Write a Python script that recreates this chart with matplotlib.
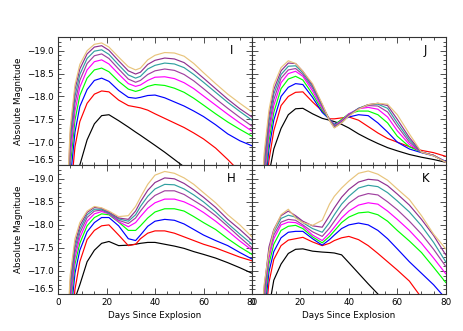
import matplotlib.pyplot as plt
import numpy as np
from matplotlib.ticker import MultipleLocator, FixedLocator

plt.rcParams['font.family'] = 'DejaVu Sans'
plt.rcParams['axes.unicode_minus'] = True

days = [3, 5, 7, 9, 12, 15, 18, 21, 25, 29, 32, 34, 37, 40, 44, 48, 52, 56, 60, 65, 70, 75, 80]

# line colours, faintest model first
colors = ['#000000', '#ff0000', '#0000ff', '#00ff00', '#ff00ff',
          '#a040a0', '#30a0a0', '#903090', '#e8c47c']

panel_i = [
    [-12.5, -14.6, -15.8, -16.5, -17.05, -17.4, -17.58, -17.6, -17.47, -17.33, -17.22, -17.15, -17.04, -16.93, -16.78, -16.62, -16.46, -16.3, -16.15, -15.95, -15.75, -15.55, -15.35],
    [-13.3, -15.75, -16.9, -17.45, -17.85, -18.05, -18.12, -18.1, -17.92, -17.8, -17.77, -17.75, -17.7, -17.62, -17.52, -17.42, -17.32, -17.2, -17.07, -16.87, -16.62, -16.35, -16.1],
    [-13.6, -16.15, -17.22, -17.78, -18.15, -18.35, -18.40, -18.33, -18.13, -17.98, -17.96, -17.98, -18.02, -18.03, -17.97, -17.88, -17.79, -17.68, -17.56, -17.38, -17.18, -17.03, -16.92],
    [-13.8, -16.45, -17.48, -18.02, -18.4, -18.58, -18.62, -18.54, -18.33, -18.16, -18.11, -18.14, -18.22, -18.26, -18.24, -18.18, -18.09, -17.96, -17.81, -17.62, -17.44, -17.28, -17.13],
    [-14.0, -16.65, -17.68, -18.2, -18.58, -18.76, -18.80, -18.71, -18.49, -18.28, -18.22, -18.25, -18.35, -18.42, -18.43, -18.39, -18.3, -18.17, -18.01, -17.81, -17.61, -17.42, -17.24],
    [-14.2, -16.85, -17.85, -18.35, -18.72, -18.89, -18.93, -18.83, -18.6, -18.38, -18.31, -18.35, -18.48, -18.56, -18.60, -18.57, -18.48, -18.34, -18.17, -17.95, -17.74, -17.54, -17.35],
    [-14.4, -17.0, -18.0, -18.48, -18.83, -18.99, -19.02, -18.92, -18.69, -18.47, -18.40, -18.44, -18.6, -18.68, -18.73, -18.71, -18.63, -18.48, -18.31, -18.09, -17.87, -17.67, -17.48],
    [-14.6, -17.15, -18.15, -18.6, -18.93, -19.08, -19.11, -19.01, -18.78, -18.56, -18.49, -18.53, -18.7, -18.79, -18.84, -18.82, -18.74, -18.58, -18.4, -18.17, -17.94, -17.73, -17.55],
    [-14.8, -17.3, -18.25, -18.7, -19.0, -19.14, -19.17, -19.08, -18.86, -18.65, -18.58, -18.62, -18.8, -18.9, -18.96, -18.95, -18.88, -18.72, -18.52, -18.28, -18.05, -17.85, -17.66],
]

panel_j = [
    [-12.5, -14.6, -16.3, -16.85, -17.3, -17.6, -17.73, -17.74, -17.62, -17.52, -17.48, -17.45, -17.39, -17.31, -17.18, -17.07, -16.97, -16.88, -16.81, -16.73, -16.67, -16.62, -16.56],
    [-13.3, -15.5, -16.6, -17.25, -17.8, -18.0, -18.09, -18.1, -17.88, -17.68, -17.51, -17.51, -17.53, -17.55, -17.48, -17.34, -17.2, -17.08, -17.0, -16.9, -16.82, -16.77, -16.69],
    [-13.6, -15.8, -16.85, -17.48, -18.0, -18.2, -18.28, -18.26, -17.98, -17.65, -17.5, -17.39, -17.48, -17.55, -17.6, -17.58, -17.42, -17.22, -17.0, -16.85, -16.77, -16.7, -16.58],
    [-13.8, -16.0, -17.02, -17.65, -18.17, -18.38, -18.44, -18.36, -18.05, -17.7, -17.5, -17.37, -17.5, -17.62, -17.68, -17.68, -17.6, -17.42, -17.13, -16.9, -16.78, -16.71, -16.57],
    [-14.0, -16.15, -17.18, -17.8, -18.3, -18.5, -18.55, -18.44, -18.12, -17.74, -17.5, -17.36, -17.47, -17.62, -17.73, -17.76, -17.72, -17.55, -17.25, -16.95, -16.78, -16.71, -16.57],
    [-14.2, -16.3, -17.32, -17.93, -18.4, -18.58, -18.61, -18.48, -18.18, -17.78, -17.5, -17.35, -17.45, -17.6, -17.74, -17.8, -17.79, -17.66, -17.35, -17.0, -16.78, -16.71, -16.56],
    [-14.4, -16.45, -17.45, -18.05, -18.48, -18.66, -18.67, -18.52, -18.22, -17.8, -17.49, -17.33, -17.43, -17.59, -17.74, -17.82, -17.83, -17.74, -17.42, -17.05, -16.78, -16.71, -16.56],
    [-14.6, -16.6, -17.58, -18.15, -18.56, -18.73, -18.72, -18.55, -18.25, -17.82, -17.48, -17.32, -17.42, -17.58, -17.73, -17.82, -17.85, -17.8, -17.5, -17.1, -16.78, -16.71, -16.56],
    [-14.8, -16.75, -17.7, -18.25, -18.63, -18.78, -18.72, -18.55, -18.28, -17.84, -17.47, -17.31, -17.42, -17.57, -17.72, -17.82, -17.85, -17.83, -17.6, -17.18, -16.78, -16.7, -16.56],
]

panel_h = [
    [-12.5, -14.5, -16.4, -16.7, -17.2, -17.45, -17.6, -17.64, -17.55, -17.56, -17.58, -17.6, -17.62, -17.62, -17.58, -17.54, -17.49, -17.42, -17.36, -17.28, -17.18, -17.07, -16.95],
    [-13.3, -15.5, -16.6, -17.2, -17.68, -17.88, -17.98, -18.0, -17.78, -17.55, -17.58, -17.7, -17.82, -17.87, -17.87, -17.82, -17.74, -17.66, -17.58, -17.5, -17.4, -17.3, -17.22],
    [-13.6, -15.9, -16.95, -17.45, -17.85, -18.05, -18.16, -18.16, -17.98, -17.7, -17.66, -17.78, -17.97, -18.08, -18.12, -18.1, -18.02, -17.9, -17.78, -17.66, -17.55, -17.4, -17.26],
    [-13.8, -16.15, -17.15, -17.6, -17.98, -18.16, -18.24, -18.22, -18.06, -17.88, -17.88, -17.98, -18.15, -18.28, -18.35, -18.35, -18.3, -18.18, -18.05, -17.9, -17.7, -17.52, -17.36],
    [-14.0, -16.3, -17.28, -17.72, -18.08, -18.24, -18.29, -18.24, -18.07, -17.96, -18.05, -18.18, -18.36, -18.48, -18.56, -18.56, -18.5, -18.4, -18.27, -18.08, -17.87, -17.65, -17.45],
    [-14.2, -16.45, -17.4, -17.82, -18.16, -18.3, -18.32, -18.25, -18.1, -18.03, -18.15, -18.3, -18.5, -18.64, -18.74, -18.74, -18.66, -18.53, -18.4, -18.2, -17.97, -17.73, -17.5],
    [-14.4, -16.6, -17.5, -17.9, -18.22, -18.34, -18.34, -18.26, -18.13, -18.08, -18.22, -18.4, -18.62, -18.78, -18.88, -18.87, -18.78, -18.65, -18.5, -18.28, -18.03, -17.8, -17.58],
    [-14.6, -16.75, -17.6, -17.98, -18.27, -18.38, -18.36, -18.28, -18.15, -18.12, -18.3, -18.5, -18.75, -18.92, -19.02, -19.0, -18.9, -18.76, -18.6, -18.38, -18.12, -17.9, -17.66],
    [-14.8, -16.9, -17.7, -18.05, -18.3, -18.4, -18.37, -18.3, -18.18, -18.2, -18.4, -18.6, -18.88, -19.08, -19.16, -19.12, -19.02, -18.88, -18.7, -18.48, -18.22, -18.0, -17.74],
]

panel_k = [
    [-12.5, -14.8, -16.2, -16.8, -17.15, -17.38, -17.47, -17.48, -17.43, -17.41, -17.4, -17.39, -17.35, -17.18, -16.95, -16.72, -16.5, -16.25, -16.0, -15.7, -15.4, -15.1, -14.8],
    [-13.3, -15.7, -16.75, -17.25, -17.55, -17.67, -17.7, -17.73, -17.63, -17.55, -17.6, -17.66, -17.72, -17.75, -17.68, -17.55, -17.38, -17.2, -17.02, -16.78, -16.42, -16.1, -15.8],
    [-13.6, -16.0, -16.98, -17.42, -17.72, -17.84, -17.86, -17.86, -17.7, -17.56, -17.68, -17.78, -17.92, -18.0, -18.04, -18.0, -17.88, -17.7, -17.48, -17.2, -16.95, -16.7, -16.4],
    [-13.8, -16.2, -17.15, -17.58, -17.88, -17.97, -17.99, -17.92, -17.74, -17.61, -17.75, -17.87, -18.05, -18.17, -18.26, -18.28, -18.22, -18.08, -17.88, -17.65, -17.4, -17.08, -16.75],
    [-14.0, -16.35, -17.28, -17.7, -18.0, -18.06, -18.05, -17.97, -17.78, -17.66, -17.82, -17.95, -18.15, -18.3, -18.43, -18.48, -18.45, -18.3, -18.12, -17.88, -17.6, -17.28, -16.94],
    [-14.2, -16.45, -17.38, -17.78, -18.06, -18.12, -18.1, -18.0, -17.85, -17.75, -17.93, -18.08, -18.3, -18.47, -18.62, -18.68, -18.65, -18.5, -18.33, -18.08, -17.8, -17.47, -17.1],
    [-14.4, -16.55, -17.45, -17.85, -18.14, -18.21, -18.17, -18.05, -17.92, -17.84, -18.05, -18.22, -18.45, -18.62, -18.8, -18.86, -18.83, -18.7, -18.52, -18.28, -17.98, -17.62, -17.2],
    [-14.6, -16.62, -17.52, -17.9, -18.2, -18.3, -18.2, -18.08, -17.98, -17.95, -18.2, -18.37, -18.6, -18.77, -18.93, -18.99, -18.97, -18.85, -18.67, -18.43, -18.12, -17.77, -17.35],
    [-14.8, -16.7, -17.42, -17.88, -18.22, -18.34, -18.15, -18.05, -17.99, -18.1, -18.45, -18.62, -18.8, -18.95, -19.12, -19.17, -19.1, -18.97, -18.78, -18.55, -18.2, -17.8, -17.48],
]

panels = [('I', panel_i), ('J', panel_j), ('H', panel_h), ('K', panel_k)]

fig = plt.figure(figsize=(4.63, 3.31), dpi=100)

x0, xm, x1 = 58 / 463, 252 / 463, 445.7 / 463
y_top, y_mid, y_bot = 1 - 37 / 331, 1 - 165 / 331, 1 - 294 / 331
boxes = [
    [x0, y_mid, xm - x0, y_top - y_mid],
    [xm, y_mid, x1 - xm, y_top - y_mid],
    [x0, y_bot, xm - x0, y_mid - y_bot],
    [xm, y_bot, x1 - xm, y_mid - y_bot],
]

fs = 6.3
for k, (letter, mags) in enumerate(panels):
    ax = fig.add_axes(boxes[k])
    for c, m in zip(colors, mags):
        ax.plot(days, m, color=c, lw=0.85)
    ax.set_xlim(0, 80)
    ax.set_ylim(-16.5, -19.3)
    ax.xaxis.set_major_locator(MultipleLocator(20))
    ax.xaxis.set_minor_locator(MultipleLocator(5))
    ax.yaxis.set_major_locator(FixedLocator([-16.5, -17.0, -17.5, -18.0, -18.5, -19.0]))
    ax.yaxis.set_minor_locator(MultipleLocator(0.1))
    ax.tick_params(which='both', direction='in', top=True, right=True,
                   labelsize=fs, width=0.6, color='#333333', pad=3)
    ax.tick_params(which='major', length=4.5)
    ax.tick_params(which='minor', length=2.2)
    for s in ax.spines.values():
        s.set_linewidth(0.8)
        s.set_color('#333333')
    ax.text(0.895, 0.895, letter, transform=ax.transAxes, fontsize=8.5,
            ha='center', va='center')
    if k % 2 == 0:
        ax.set_ylabel('Absolute Magnitude', fontsize=fs, labelpad=3)
        fig.canvas.draw()
        labs = ax.get_yticklabels()
        labs[0].set_va('bottom')
    else:
        ax.set_yticklabels([])
    if k >= 2:
        ax.set_xlabel('Days Since Explosion', fontsize=fs, labelpad=3)
    else:
        ax.set_xticklabels([])

fig.savefig('out.png', dpi=100)
